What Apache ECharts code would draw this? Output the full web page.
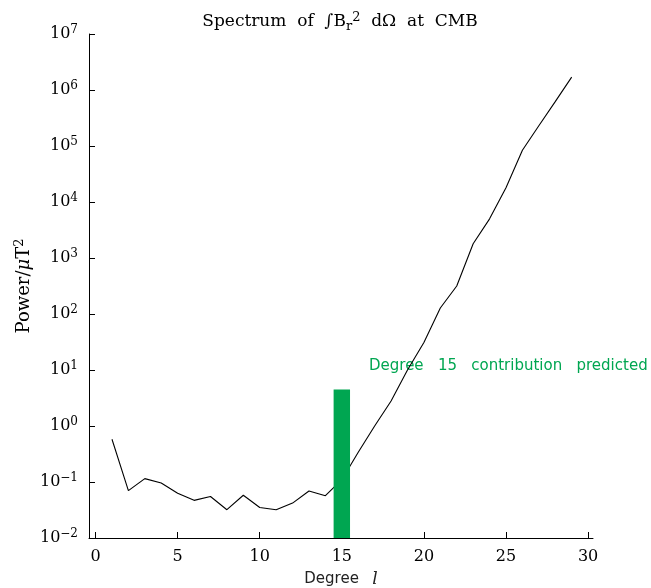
<!DOCTYPE html>
<html>
<head>
<meta charset="utf-8">
<script src="https://cdn.jsdelivr.net/npm/echarts@6/dist/echarts.min.js"></script>
<style>
  html, body { margin: 0; padding: 0; background: #fff; }
  #chart { width: 651px; height: 588px; }
</style>
</head>
<body>
<div id="chart"></div>
<script>
// degree l and power values
var degrees = [1, 2, 3, 4, 5, 6, 7, 8, 9, 10, 11, 12, 13, 14, 15,
  16, 17, 18, 19, 20, 21, 22, 23, 24, 25, 26, 27, 28, 29]
var power = [0.58, 0.07, 0.115, 0.096, 0.063, 0.047, 0.055, 0.032, 0.058, 0.035,
  0.032, 0.042, 0.069, 0.057, 0.11, 0.34, 1.0, 2.8, 10, 31,
  128, 316, 1800, 5000, 18000, 84000, 230000, 620000, 1700000]
// predicted degree 15 contribution: [from, to, value]
var predicted = [[14.5, 15.5, 4.5]]
var xTicks = [0, 5, 10, 15, 20, 25, 30]
var yTicks = [0.01, 0.1, 1, 10, 100, 1000, 10000, 100000, 1000000, 10000000]

var serif = 'DejaVu Serif'
var green = '#00a651'

var mychart = echarts.init(document.getElementById('chart'))
var option = {
  animation: false,
  title: {
    text: 'Spectrum  of  {i|∫}B{sub|r}{sup|2}  dΩ  at  CMB',
    left: 335,
    textAlign: 'center',
    top: 6,
    textStyle: {
      fontFamily: serif,
      fontSize: 17,
      fontWeight: 'normal',
      color: '#000',
      rich: {
        i: { fontFamily: serif, fontSize: 17, color: '#000' },
        sub: { fontFamily: serif, fontSize: 13, color: '#000', padding: [9, 0, 0, 0] },
        sup: { fontFamily: serif, fontSize: 13, color: '#000', padding: [0, 0, 9, 0] },
      },
    },
  },
  grid: { left: 89, right: 58, top: 34, bottom: 50, outerBoundsMode: 'none', containLabel: false },
  xAxis: {
    type: 'value',
    min: -0.4,
    max: 30.3,
    name: '{a|Degree}    {b|l}',
    nameLocation: 'middle',
    nameGap: 33,
    nameMoveOverlap: false,
    nameTextStyle: {
      rich: {
        a: { fontFamily: 'DejaVu Sans', fontSize: 15, color: '#222' },
        b: { fontFamily: serif, fontStyle: 'italic', fontSize: 17, color: '#222' },
      },
    },
    axisLine: { onZero: false, lineStyle: { color: '#000', width: 1 } },
    axisTick: { show: true, inside: true, length: 6, customValues: xTicks, lineStyle: { color: '#000' } },
    axisLabel: {
      customValues: xTicks,
      margin: 11,
      fontFamily: serif,
      fontSize: 16,
      color: '#000',
    },
    splitLine: { show: false },
  },
  yAxis: {
    type: 'log',
    logBase: 10,
    min: 0.01,
    max: 10000000,
    name: 'Power/{m|μ}T{s|2}',
    nameLocation: 'middle',
    nameGap: 54,
    nameMoveOverlap: false,
    nameTextStyle: {
      fontFamily: serif,
      fontSize: 18,
      color: '#000',
      rich: {
        m: { fontFamily: serif, fontStyle: 'italic', fontSize: 18, color: '#000' },
        s: { fontFamily: serif, fontSize: 13, color: '#000', padding: [0, 0, 9, 0] },
      },
    },
    axisLine: { show: true, onZero: false, lineStyle: { color: '#000', width: 1 } },
    axisTick: { show: true, inside: true, length: 6, customValues: yTicks, lineStyle: { color: '#000' } },
    axisLabel: {
      customValues: yTicks,
      margin: 11,
      formatter: function (v) {
        var e = Math.round(Math.log10(v))
        return '{b|10}{s|' + (e < 0 ? '−' + (-e) : e) + '}'
      },
      rich: {
        b: { fontFamily: serif, fontSize: 16, color: '#000' },
        s: { fontFamily: serif, fontSize: 12, color: '#000', padding: [0, 0, 9, 0] },
      },
    },
    splitLine: { show: false },
  },
  series: [
    {
      type: 'line',
      data: degrees.map(function (d, i) { return [d, power[i]] }),
      symbol: 'none',
      lineStyle: { color: '#000', width: 1.1 },
      z: 2,
    },
    {
      type: 'custom',
      data: predicted,
      z: 3,
      renderItem: function (params, api) {
        var p0 = api.coord([api.value(0), 0.01])
        var p1 = api.coord([api.value(1), api.value(2)])
        return {
          type: 'rect',
          shape: { x: p0[0], y: p1[1], width: p1[0] - p0[0], height: p0[1] - p1[1] },
          style: { fill: green },
        }
      },
    },
  ],
  graphic: [
    {
      type: 'text',
      left: 369,
      top: 359,
      style: {
        text: 'Degree   15   contribution   predicted',
        fontFamily: 'DejaVu Sans',
        fontSize: 15,
        fill: green,
      },
    },
  ],
}
mychart.setOption(option, true)
</script>
</body>
</html>
